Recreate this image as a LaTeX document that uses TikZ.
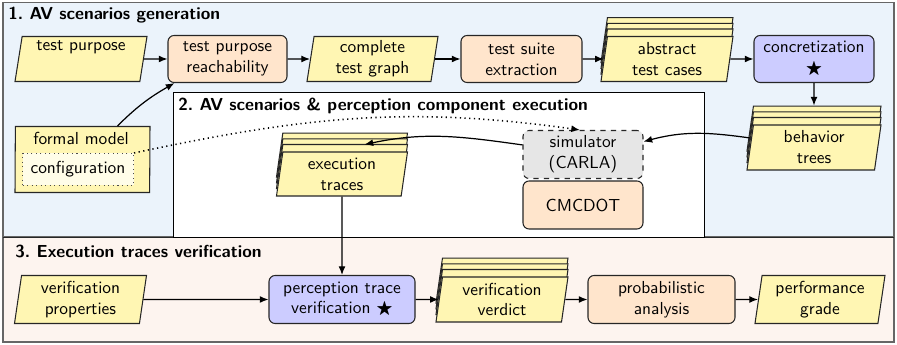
\documentclass[tikz,border=0pt]{standalone}
\usepackage{amssymb}
\usetikzlibrary{shapes.geometric,shadows,arrows.meta}
\def\pxu{0.575pt}
\definecolor{yelfill}{HTML}{FFF6B3}
\definecolor{peach}{HTML}{FFE5CC}
\definecolor{bluefill}{HTML}{CCCCFF}
\definecolor{grayfill}{HTML}{E6E6E6}
\definecolor{panelA}{HTML}{EBF3FB}
\definecolor{panelC}{HTML}{FDF4EF}
\definecolor{cfgfill}{HTML}{FFFDE8}
\begin{document}
\begin{tikzpicture}[x=\pxu, y=-\pxu, font=\sffamily,
  base/.style={draw=black!85, line width=0.6pt, align=center, inner sep=1pt},
  data/.style={base, trapezium, trapezium left angle=80, trapezium right angle=100,
    trapezium stretches body, fill=yelfill, minimum width=132*\pxu, minimum height=45*\pxu},
  stack/.style={
    copy shadow={fill=yelfill, draw=black!85, shadow xshift=0pt, shadow yshift=10.9pt},
    copy shadow={fill=yelfill, draw=black!85, shadow xshift=0pt, shadow yshift=7.6pt},
    copy shadow={fill=yelfill, draw=black!85, shadow xshift=0pt, shadow yshift=4.3pt}},
  proc/.style={base, rectangle, rounded corners=3.5pt, fill=peach, minimum width=120*\pxu, minimum height=47*\pxu},
  title/.style={font=\sffamily\bfseries, anchor=base west, inner sep=0pt},
  panel/.style={draw=black!60, line width=0.75pt},
  arr/.style={-{Latex[length=5pt,width=4pt]}, line width=0.7pt}]
\useasboundingbox (0,0) rectangle (897,345);
% panels
\draw[panel, fill=panelA] (3,2.5) rectangle (894,237);
\draw[panel, fill=panelC] (3,237) rectangle (894,342);
\draw[black!85, line width=0.5pt] (3,237) -- (894,237);
\draw[black, line width=0.5pt, fill=white] (173,92) rectangle (704,237);
\node[title] (t1) at (8,20) {1.\ AV scenarios generation};
\node[title] (t2) at (178,111) {2.\ AV scenarios \& perception component execution};
\node[title] (t3) at (15,258) {3.\ Execution traces verification};
% row 1
\node[data] (tp) at (81,59) {test purpose\\\strut};
\node[proc, minimum width=119*\pxu] (tpr) at (227.5,59) {test purpose\\reachability};
\node[data, minimum width=131*\pxu] (ctg) at (372.5,59) {complete\\test graph};
\node[proc, minimum width=121*\pxu] (tse) at (521.5,59) {test suite\\extraction};
\node[data, stack] (atc) at (667,59) {abstract\\test cases};
\node[proc, fill=bluefill] (conc) at (814,59) {concretization\\$\bigstar$};
\node[data, stack, minimum width=134*\pxu] (bt) at (814,147.5) {behavior\\trees};
% formal model
\node[data, trapezium left angle=84, trapezium right angle=96, minimum width=135*\pxu, minimum height=66*\pxu] (fm) at (82.5,159.5) {};
\node[inner sep=0pt] (fmt) at (81,138) {formal model};
\node[draw=black!70, dotted, line width=0.6pt, fill=cfgfill, minimum width=111*\pxu, minimum height=32*\pxu, inner sep=1pt] (cfg) at (78,169.5) {configuration};
% panel 2
\node[data, stack, minimum width=131*\pxu, minimum height=44*\pxu] (et) at (342,174) {execution\\traces};
\node[proc, fill=grayfill, dashed, minimum height=48*\pxu] (sim) at (583,154.5) {simulator\\(CARLA)};
\node[proc, minimum height=48*\pxu] (cmc) at (583,205) {CMCDOT};
% row 3
\node[data, minimum height=48*\pxu] (vp) at (80.5,299.5) {verification\\properties};
\node[proc, fill=bluefill, minimum width=146*\pxu, minimum height=48*\pxu] (ptv) at (342,299.5) {perception trace\\verification $\bigstar$};
\node[data, stack, minimum height=45*\pxu] (vv) at (502,299.5) {verification\\verdict};
\node[proc, minimum width=147*\pxu, minimum height=48*\pxu] (pa) at (661.5,299.5) {probabilistic\\analysis};
\node[data, minimum width=130*\pxu, minimum height=48*\pxu] (pg) at (820,299.5) {performance\\grade};
% connectors
\draw[arr] (tp) -- (tpr);
\draw[arr] (tpr) -- (ctg);
\draw[arr] (ctg) -- (tse);
\draw[arr] (tse) -- (atc);
\draw[arr] (atc) -- (conc);
\draw[arr] (conc.south) -- ([yshift=10.9pt]bt.north);
\draw[arr] ([xshift=35*\pxu]fm.north) to[out=45,in=210] ([xshift=7*\pxu]tpr.south west);
\draw[arr, dotted, line width=0.9pt] (cfg.north east) to[out=12,in=172] ([xshift=-3*\pxu]sim.north);
\draw[arr] ([yshift=5.5pt]bt.west) to[out=172,in=15] (sim.12);
\draw[arr] ([yshift=5.5pt]sim.west) to[out=172,in=12] ([yshift=4pt]et.north east);
\draw[arr] (et.south) -- (ptv.north);
\draw[arr] (vp) -- (ptv);
\draw[arr] (ptv) -- (vv);
\draw[arr] (vv) -- (pa);
\draw[arr] (pa) -- (pg);
\end{tikzpicture}
\end{document}
